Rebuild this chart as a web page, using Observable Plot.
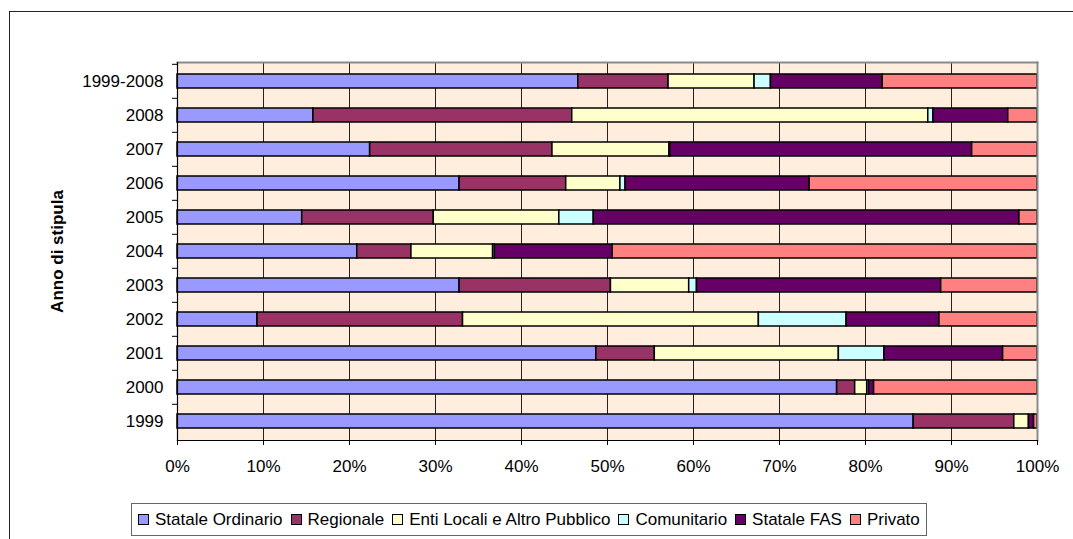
<!DOCTYPE html>
<html>
<head>
<meta charset="utf-8">
<script src="https://cdn.jsdelivr.net/npm/d3@7"></script>
<script src="https://cdn.jsdelivr.net/npm/@observablehq/plot@0.6"></script>
<style>
  html, body { margin: 0; padding: 0; background: #fff; }
  #wrap { position: relative; width: 1073px; height: 539px; overflow: hidden; font-family: "Liberation Sans", Arial, sans-serif; }
  #outer { position: absolute; left: 9px; top: 11px; width: 1200px; height: 700px; border: 1.5px solid #222; box-sizing: border-box; }
  #chart { position: absolute; left: 0; top: 0; }
  #legend { position: absolute; left: 131px; top: 503px; height: 33px; box-sizing: border-box; border: 1.5px solid #666; background: #fff;
            display: flex; align-items: center; padding: 0 6px; font-size: 17px; color: #000; white-space: nowrap; }
  .item { display: flex; align-items: center; margin-right: 8px; }
  .item:last-child { margin-right: 0; }
  .sw { width: 9px; height: 9px; border: 1px solid #000; margin-right: 6px; }
</style>
</head>
<body>
<div id="wrap">
  <div id="outer"></div>
  <div id="chart"></div>
  <div id="legend"></div>
</div>
<script>
const categories = ["1999-2008", "2008", "2007", "2006", "2005", "2004", "2003", "2002", "2001", "2000", "1999"];
const seriesNames = ["Statale Ordinario", "Regionale", "Enti Locali e Altro Pubblico", "Comunitario", "Statale FAS", "Privato"];
const seriesColors = ["#9999FF", "#993366", "#FFFFCC", "#CCFFFF", "#660066", "#FF8080"];

const stataleOrdinario = [46.6, 15.8, 22.4, 32.8, 14.5, 20.9, 32.8, 9.3, 48.7, 76.7, 85.6];
const regionale        = [10.5, 30.1, 21.2, 12.4, 15.3, 6.3, 17.6, 23.9, 6.8, 2.1, 11.7];
const entiLocali       = [10.0, 41.4, 13.6, 6.3, 14.6, 9.5, 9.1, 34.4, 21.4, 1.4, 1.7];
const comunitario      = [1.9, 0.6, 0.1, 0.6, 4.0, 0.2, 0.9, 10.2, 5.3, 0.2, 0.0];
const stataleFAS       = [13.0, 8.7, 35.1, 21.4, 49.5, 13.7, 28.4, 10.8, 13.8, 0.6, 0.6];
const privato          = [18.0, 3.4, 7.6, 26.5, 2.1, 49.4, 11.2, 11.4, 4.0, 19.0, 0.4];

const xTicks = [0, 10, 20, 30, 40, 50, 60, 70, 80, 90, 100];
const yTitle = "Anno di stipula";

const seriesValues = [stataleOrdinario, regionale, entiLocali, comunitario, stataleFAS, privato];
const data = [];
categories.forEach((c, i) => {
  seriesNames.forEach((s, j) => {
    data.push({anno: c, serie: s, valore: seriesValues[j][i]});
  });
});

const W = 1073, H = 490, mL = 177, mR = 36, mT = 62, mB = 50;
const step = (H - mT - mB) / categories.length;

const chart = Plot.plot({
  width: W,
  height: H,
  marginLeft: mL,
  marginRight: mR,
  marginTop: mT,
  marginBottom: mB,
  style: {fontFamily: "'Liberation Sans', Arial, sans-serif", fontSize: "17px", background: "transparent", color: "#000"},
  x: {domain: [0, 100], ticks: xTicks},
  y: {domain: categories, paddingInner: 0.6, paddingOuter: 0.3},
  color: {domain: seriesNames, range: seriesColors},
  marks: [
    Plot.frame({fill: "#FFEDDE", stroke: null}),
    Plot.ruleX(xTicks.slice(1, -1), {stroke: "#222", strokeWidth: 1}),
    Plot.barX(data, Plot.stackX({y: "anno", x: "valore", z: "serie", fill: "serie", order: null, stroke: "#000", strokeWidth: 1.5})),
    Plot.frame({anchor: "top", stroke: "#8a8a8a", strokeWidth: 2}),
    Plot.frame({anchor: "right", stroke: "#8a8a8a", strokeWidth: 2}),
    Plot.frame({anchor: "left", stroke: "#000", strokeWidth: 1.2}),
    Plot.frame({anchor: "bottom", stroke: "#000", strokeWidth: 1.2}),
    Plot.axisX({ticks: xTicks, tickSize: 5, tickPadding: 14, tickFormat: d => d + "%", label: null, fontSize: 17}),
    Plot.axisY({tickSize: 0, tickPadding: 14, label: null, fontSize: 17}),
    Plot.axisY({tickSize: 5, tickFormat: () => "", label: null, dy: -step / 2}),
    Plot.text([yTitle], {frameAnchor: "left", textAnchor: "middle", dx: -120, rotate: -90, text: d => d, fontWeight: "bold", fontSize: 17})
  ]
});
document.getElementById("chart").appendChild(chart);

const legend = document.getElementById("legend");
seriesNames.forEach((s, i) => {
  const it = document.createElement("div");
  it.className = "item";
  const sw = document.createElement("div");
  sw.className = "sw";
  sw.style.background = seriesColors[i];
  const tx = document.createElement("span");
  tx.textContent = s;
  it.appendChild(sw);
  it.appendChild(tx);
  legend.appendChild(it);
});
</script>
</body>
</html>
